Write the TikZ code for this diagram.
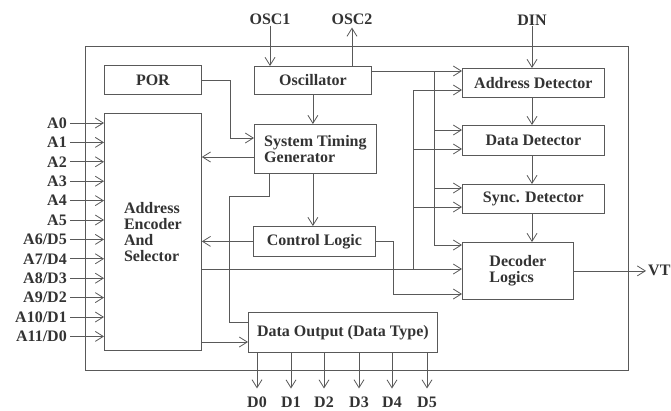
\documentclass[tikz,border=0pt]{standalone}
\usepackage{fontspec}
\setmainfont{Liberation Serif}
\usetikzlibrary{arrows.meta,calc}
\begin{document}
\begin{tikzpicture}[x=1pt,y=-1pt,
  every node/.style={font=\fontsize{16}{16}\selectfont\bfseries, text=black!80},
  box/.style={draw=black!65, line width=0.8pt, inner sep=0pt, anchor=north west},
  lbl/.style={inner sep=1pt},
  wire/.style={draw=black!65, line width=0.8pt},
  arr/.style={wire, -{Straight Barb[length=8pt,width=10pt]}},
]
\useasboundingbox (0,0) rectangle (671,410);

% outer frame
\draw[wire] (85,46) rectangle (628,370);

% blocks
\node[box, minimum width=97pt, minimum height=29pt] (por) at (104,65) {POR};
\node[box, minimum width=117pt, minimum height=28pt] (osc) at (254,66) {Oscillator};
\node[box, minimum width=122pt, minimum height=49pt, align=left] (stg) at (254,124) {System Timing\\Generator};
\node[box, minimum width=97pt, minimum height=237pt, align=left] (enc) at (104,113) {Address\\Encoder\\And\\Selector};
\node[box, minimum width=122pt, minimum height=30pt] (ctl) at (253,226) {Control Logic};
\node[box, minimum width=189pt, minimum height=40pt] (dout) at (248,312) {Data Output (Data Type)};
\node[box, minimum width=142pt, minimum height=29pt] (ad) at (462,68) {Address Detector};
\node[box, minimum width=142pt, minimum height=30pt] (dd) at (462,125) {Data Detector};
\node[box, minimum width=142pt, minimum height=29pt] (sd) at (462,184) {Sync. Detector};
\node[box, minimum width=111pt, minimum height=57pt, align=left] (dec) at (462,242) {Decoder\\Logics};

% top labels
\node[lbl] (osc1) at (270,19) {OSC1};
\node[lbl] (osc2) at (352,19) {OSC2};
\node[lbl] (din) at (532,20) {DIN};
\draw[arr] (osc1.south) -- (osc1.south |- osc.north);
\draw[arr] (osc2.south |- osc.north) -- ($(osc2.south)+(0,2)$);
\draw[arr] (din.south) -- (din.south |- ad.north);

% address inputs
\foreach \t [count=\i from 0] in {A0,A1,A2,A3,A4,A5,A6/D5,A7/D4,A8/D3,A9/D2,A10/D1,A11/D0}{
  \node[inner sep=3pt, anchor=east] (in\i) at (70,{123+\i*19.4}) {\t};
  \draw[arr] (in\i.east) -- (in\i.east -| enc.west);
}

% oscillator to detectors
\coordinate (o1) at ($(osc.north east)+(0,5)$);
\coordinate (b1) at (434,0);
\coordinate (b2) at (413,0);
\coordinate (b3) at (393,0);
\draw[arr] (o1) -- (o1 -| ad.west);
\coordinate (dd1) at ($(dd.north west)+(0,5)$);
\coordinate (sd1) at ($(sd.north west)+(0,4)$);
\coordinate (dec1) at ($(dec.north west)+(0,3)$);
\draw[wire] (o1 -| b1) -- (dec1 -| b1);
\draw[arr] (dd1 -| b1) -- (dd1);
\draw[arr] (sd1 -| b1) -- (sd1);
\draw[arr] (dec1 -| b1) -- (dec1);

% encoder to decoder and detectors
\coordinate (ad2) at ($(ad.north west)+(0,22)$);
\coordinate (dd2) at ($(dd.north west)+(0,24)$);
\coordinate (sd2) at ($(sd.north west)+(0,23)$);
\coordinate (e3) at ($(dec.north west)+(0,27)$);
\draw[arr] (e3 -| enc.east) -- (e3);
\draw[wire] (e3 -| b2) -- (ad2 -| b2);
\draw[arr] (ad2 -| b2) -- (ad2);
\draw[arr] (dd2 -| b2) -- (dd2);
\draw[arr] (sd2 -| b2) -- (sd2);

% detector chain
\draw[arr] (din.south |- ad.south) -- (din.south |- dd.north);
\draw[arr] (din.south |- dd.south) -- (din.south |- sd.north);
\draw[arr] (din.south |- sd.south) -- (din.south |- dec.north);

% control logic
\coordinate (dec4) at ($(dec.north west)+(0,52)$);
\draw[arr] (ctl.east) -| (b3 |- dec4) -- (dec4);
\draw[arr] (ctl.west) -- (ctl.west -| enc.east);

% system timing generator
\coordinate (s1) at ($(stg.north west)+(0,33)$);
\coordinate (s2) at ($(stg.north west)+(0,14)$);
\draw[arr] (s1) -- (s1 -| enc.east);
\draw[arr] (por.east) -| ($(s2)+(-24,0)$) -- (s2);
\draw[arr] (osc.south) -- (osc.south |- stg.north);
\draw[arr] (osc.south |- stg.south) -- (osc.south |- ctl.north);
\coordinate (s3) at ($(stg.south west)+(15,0)$);
\draw[wire] (s3) -- ++(0,23) -| ($(dout.north west)+(-19,10)$) -- ($(dout.north west)+(0,10)$);

% encoder to data output
\coordinate (d1) at ($(dout.north west)+(0,30)$);
\draw[arr] (d1 -| enc.east) -- (d1);

% data outputs
\foreach \x [count=\i from 0] in {257,291,324,359,392,427}{
  \node[lbl] (dl\i) at (\x,402) {D\i};
  \draw[arr] (dl\i |- dout.south) -- ($(dl\i.north)+(0,-7)$);
}

% VT output
\node[inner sep=0pt, anchor=west] (vt) at (648,270) {VT};
\draw[arr] (dec.east) -- ($(dec.east -| vt.west)+(-2,0)$);
\end{tikzpicture}
\end{document}
